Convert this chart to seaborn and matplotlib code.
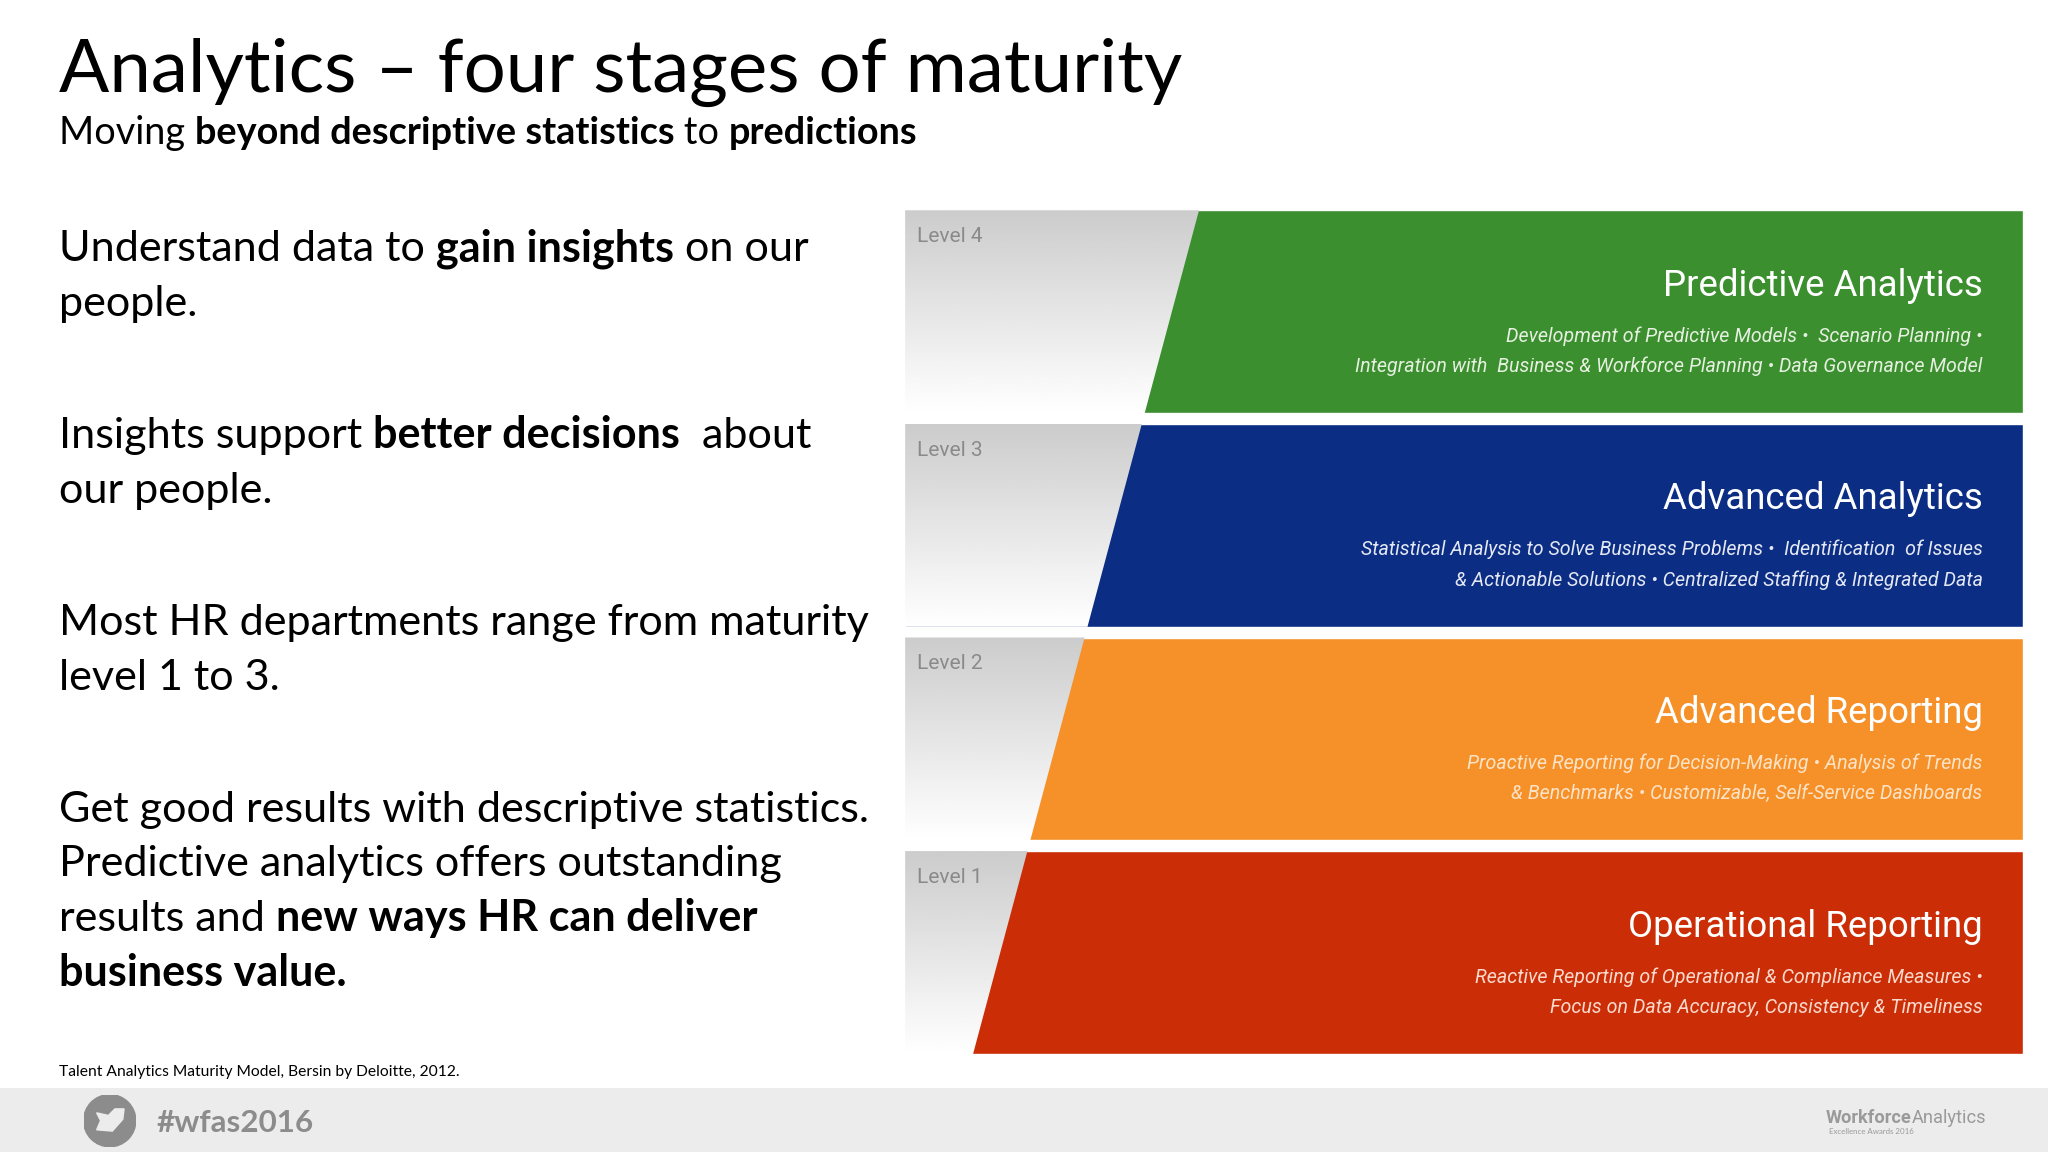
import matplotlib
matplotlib.use("Agg")
import matplotlib.pyplot as plt
import seaborn as sns
import numpy as np
import pandas as pd
from matplotlib.patches import Polygon, Circle, Rectangle

sns.set_theme(style="white")
plt.rcParams['font.family'] = ['Lato', 'DejaVu Sans']

levels = ["Level 4", "Level 3", "Level 2", "Level 1"]
band_titles = ["Predictive Analytics", "Advanced Analytics", "Advanced Reporting", "Operational Reporting"]
band_lines = [
    ["Development of Predictive Models \u2022  Scenario Planning \u2022",
     "Integration with  Business & Workforce Planning \u2022 Data Governance Model"],
    ["Statistical Analysis to Solve Business Problems \u2022  Identification  of Issues",
     "& Actionable Solutions \u2022 Centralized Staffing & Integrated Data"],
    ["Proactive Reporting for Decision-Making \u2022 Analysis of Trends",
     "& Benchmarks \u2022 Customizable, Self-Service Dashboards"],
    ["Reactive Reporting of Operational & Compliance Measures \u2022",
     "Focus on Data Accuracy, Consistency & Timeliness"],
]
band_colors = ["#3b8f2f", "#0b2d84", "#f6912a", "#cb2e07"]
desc_colors = ["#e6f0e0", "#e4e8f4", "#fde3c6", "#fbd9cc"]
band_width = [856, 856, 856, 856]

W, H = 1568, 882
fig = plt.figure(figsize=(20.48, 11.52), dpi=100)
fig.patch.set_facecolor("white")
PT = (2048 / W) * 72 / 100
def fx(x): return x / W
def fy(y): return 1 - y / H

renderer = fig.canvas.get_renderer()
def runs(x, y, parts, size, color="black", family=None):
    cx = fx(x)
    for txt, bold in parts:
        kw = {} if family is None else {"family": family}
        t = fig.text(cx, fy(y), txt, fontsize=size * PT, color=color,
                     fontweight="bold" if bold else "normal", va="baseline", ha="left", **kw)
        bb = t.get_window_extent(renderer)
        cx += bb.width / fig.bbox.width
    return cx

fig.text(fx(45), fy(70), "Analytics \u2013 four stages of maturity", fontsize=57 * PT,
         va="baseline", ha="left", color="black")
runs(45, 110, [("Moving ", False), ("beyond descriptive statistics", True), (" to ", False),
               ("predictions", True)], 29)

bs = 33
runs(45, 200, [("Understand data to ", False), ("gain insights", True), (" on our", False)], bs)
runs(45, 242, [("people.", False)], bs)
runs(45, 343, [("Insights support ", False), ("better decisions", True), ("  about", False)], bs)
runs(45, 385, [("our people.", False)], bs)
runs(45, 486, [("Most HR departments range from maturity", False)], bs)
runs(45, 528, [("level 1 to 3.", False)], bs)
runs(45, 629, [("Get good results with descriptive statistics.", False)], bs)
runs(45, 671, [("Predictive analytics offers outstanding", False)], bs)
runs(45, 713, [("results and ", False), ("new ways HR can deliver", True)], bs)
runs(45, 755, [("business value.", True)], bs)
fig.text(fx(45), fy(824), "Talent Analytics Maturity Model, Bersin by Deloitte, 2012.",
         fontsize=12 * PT, va="baseline", color="black")

NARROW = ["Roboto", "DejaVu Sans"]
ax = fig.add_axes([fx(693), fy(807), fx(1549) - fx(693), (807 - 161) / H])
df = pd.DataFrame({"level": levels, "w": band_width})
sns.barplot(data=df, y="level", x="w", hue="level", palette=band_colors, orient="h",
            width=0.95, ax=ax, legend=False, saturation=1)
ax.set_xlim(0, 856)
ax.set_ylim(3.475, -0.475)
ax.axis("off")

def xl(y):
    return 225 + (y + 0.475) / 3.95 * (52 - 225)

grad = np.linspace(0.80, 1.0, 100).reshape(-1, 1)
grad = np.repeat(grad, 2, axis=1)
for i, lv in enumerate(levels):
    top, bot = i - 0.475, i + 0.475
    poly = Polygon([(0, top), (xl(top), top), (xl(bot), bot), (0, bot)], closed=True,
                   facecolor="none", edgecolor="none")
    ax.add_patch(poly)
    im = ax.imshow(grad, cmap="gray", vmin=0, vmax=1, aspect="auto",
                   extent=(0, xl(top) + 1, bot, top), zorder=3, interpolation="bilinear")
    im.set_clip_path(poly)
    ax.text(9, top + 20 / 161.5, lv, fontsize=16 * PT, color="#8a8a8a", va="center",
            ha="left", zorder=4, family=NARROW)
    ax.text(825, top + 57 / 161.5, band_titles[i], fontsize=28 * PT, color="white",
            va="center", ha="right", zorder=4, family=NARROW)
    for j, line in enumerate(band_lines[i]):
        ax.text(825, top + (95 + 23 * j) / 161.5, line, fontsize=15 * PT, color=desc_colors[i],
                va="center", ha="right", style="italic", zorder=4, family=NARROW)
ax.set_ylim(3.475, -0.475)
ax.set_xlim(0, 856)

# footer
fig.patches.append(Rectangle((0, 0), 1, fy(833), transform=fig.transFigure,
                             facecolor="#ececec", edgecolor="none", zorder=-5))
fax = fig.add_axes([fx(64), fy(878), fx(40), 40 / H])
fax.set_xlim(-1, 1); fax.set_ylim(-1, 1); fax.set_aspect("equal"); fax.axis("off")
fax.patch.set_alpha(0)
fax.add_patch(Circle((0, 0), 1, color="#8c8c8c"))
fax.add_patch(Polygon([(-0.5, -0.35), (0.1, -0.4), (0.5, 0.05), (0.55, 0.45), (0.2, 0.45),
                       (-0.05, 0.2), (-0.5, 0.3), (-0.35, 0.0)], closed=True, color="#ececec"))
fig.text(fx(120), fy(867), "#wfas2016", fontsize=24 * PT, color="#8c8c8c",
         fontweight="bold", va="baseline")
runs(1398, 860, [("Workforce", True), ("Analytics", False)], 14, color="#9a9a9a", family=NARROW)
fig.text(fx(1400), fy(868), "Excellence Awards 2016", fontsize=6 * PT, color="#9a9a9a",
         va="baseline")

fig.savefig("out.png", dpi=100)
